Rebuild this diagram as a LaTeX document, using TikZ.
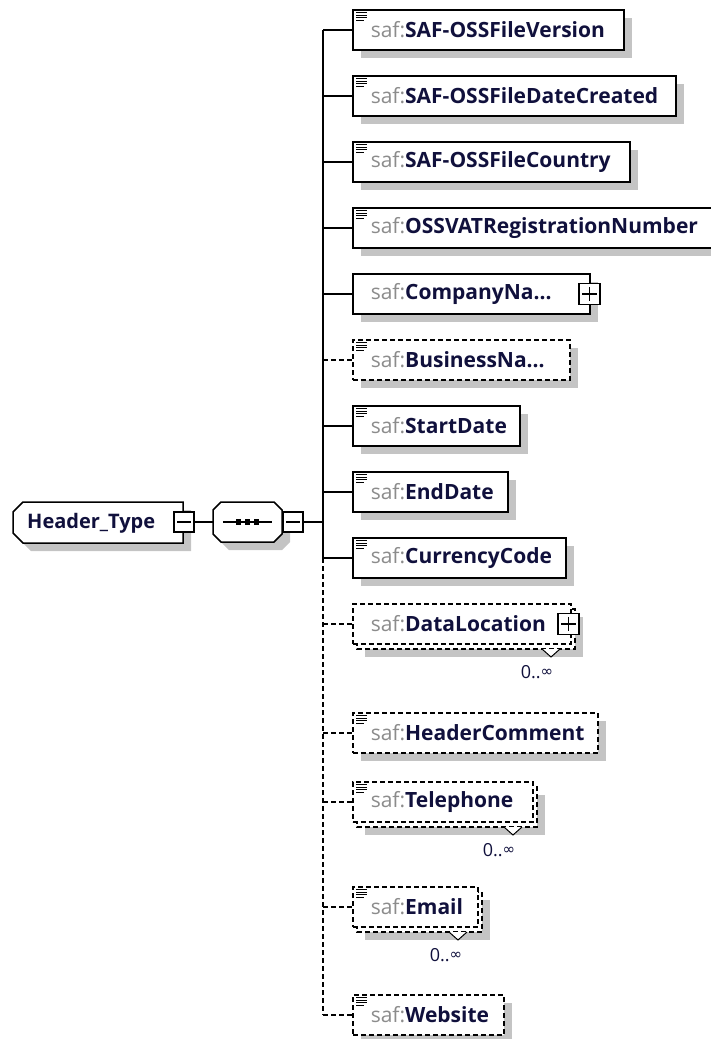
\documentclass[tikz,border=0pt]{standalone}
\usepackage{fontspec}
\setmainfont{Open Sans}
\newfontfamily\symfont{DejaVu Sans}
\usetikzlibrary{shadows}

\definecolor{navy}{HTML}{10103C}
\definecolor{nsgray}{HTML}{8C8C8C}
\definecolor{shadowgray}{HTML}{C4C4C4}

\newcommand{\safname}[1]{\mbox{{\color{nsgray}saf:}\textbf{#1}}}

\begin{document}
\begin{tikzpicture}[x=1pt, y=-1pt,
	elem/.style={draw, line width=1.5pt, fill=white, anchor=west, minimum height=40pt,
		inner xsep=18pt, inner ysep=0pt, align=left, text=navy,
		font=\fontsize{21}{24}\selectfont, text width=#1},
	opt/.style={dash pattern=on 5pt off 3pt},
	shad/.style={drop shadow={shadow xshift=8pt, shadow yshift=-8pt, opacity=1, fill=shadowgray}},
	tog/.style={draw, line width=1.3pt, fill=white, minimum size=20pt, inner sep=0pt},
	conn/.style={line width=1.5pt},
	mult/.style={font=\fontsize{18}{20}\selectfont, text=navy, inner sep=0pt}]
	
	\useasboundingbox (0,0) rectangle (710,1039);
	
	% complex type and its sequence
	\draw[conn, fill=white, shad] (23,502) -- (183,502) -- (183,543) -- (23,543) -- (13,533) -- (13,512) -- cycle;
	\node[font=\bfseries\fontsize{20}{24}\selectfont, text=navy, anchor=west, inner sep=0pt] (htype) at (27,523) {Header\_Type};
	\node[tog] (hmin) at (184,522) {};
	\draw[conn] ([xshift=4pt]hmin.west) -- ([xshift=-4pt]hmin.east);
	
	\draw[conn, fill=white, shad] (221,502) -- (274,502) -- (282,510) -- (282,534) -- (274,542) -- (221,542) -- (213,534) -- (213,510) -- cycle;
	\node[minimum width=69pt, minimum height=40pt, inner sep=0pt] (seq) at (247.5,522) {};
	\draw[line width=1.6pt] ([xshift=10pt]seq.west) -- ([xshift=-10pt]seq.east);
	\foreach \dx in {-9,0,9}
		\fill ([xshift=\dx pt]seq.center) ++(-2.7,-2.7) rectangle ++(5.4,5.4);
	\node[tog] (smin) at (293,522) {};
	\draw[conn] ([xshift=4pt]smin.west) -- ([xshift=-4pt]smin.east);
	
	\coordinate (trunk) at (323,522);
	\draw[conn] (hmin) -- (seq);
	\draw[conn] (smin) -- (trunk);
	
	% child elements
	\node[elem=235pt, shad] (ver) at (352,30) {\safname{SAF-OSSFileVersion}};
	\node[elem=287pt, shad] (dat) at (352,96) {\safname{SAF-OSSFileDateCreated}};
	\node[elem=241pt, shad] (cty) at (352,162) {\safname{SAF-OSSFileCountry}};
	\node[elem=327pt, shad] (vat) at (352,228) {\safname{OSSVATRegistrationNumber}};
	\node[elem=201pt, shad] (cna) at (352,294) {\safname{CompanyNa...}};
	\node[elem=181pt, opt, shad] (bna) at (352,360) {\safname{BusinessNa...}};
	\node[elem=131pt, shad] (sta) at (352,426) {\safname{StartDate}};
	\node[elem=119pt, shad] (edt) at (352,492) {\safname{EndDate}};
	\node[elem=177pt, shad] (cur) at (352,558) {\safname{CurrencyCode}};
	
	\draw[conn, opt, fill=white, shad] (357,609) rectangle (575,649);
	\node[elem=182pt, opt] (dloc) at (352,624) {\safname{DataLocation}};
	\node[elem=209pt, opt, shad] (hcom) at (352,733) {\safname{HeaderComment}};
	\draw[conn, opt, fill=white, shad] (357,787) rectangle (537,827);
	\node[elem=144pt, opt] (tel) at (352,802) {\safname{Telephone}};
	\draw[conn, opt, fill=white, shad] (357,892) rectangle (482,932);
	\node[elem=89pt, opt] (eml) at (352,907) {\safname{Email}};
	\node[elem=115pt, opt, shad] (web) at (352,1015) {\safname{Website}};
	
	% trunk and branches
	\draw[conn] (ver.west -| trunk) -- (cur.west -| trunk);
	\draw[conn, opt] (cur.west -| trunk) -- (web.west -| trunk);
	\foreach \n in {ver,dat,cty,vat,cna,sta,edt,cur}
		\draw[conn] (\n.west -| trunk) -- (\n.west);
	\foreach \n in {bna,dloc,hcom,tel,eml,web}
		\draw[conn, opt] (\n.west -| trunk) -- (\n.west);
	
	% simple content icons
	\foreach \n in {ver,dat,cty,vat,bna,sta,edt,cur,hcom,tel,eml,web}
		\foreach \dy/\len in {3/11,5.7/11,8.4/11,11/8}
			\draw[line width=0.9pt] ([shift={(4,\dy)}]\n.north west) -- ++(\len,0);
	
	% expand boxes
	\node[tog, minimum size=21pt] (cnap) at ([xshift=-1pt]cna.east) {};
	\draw[line width=1.3pt] ([xshift=4pt]cnap.west) -- ([xshift=-4pt]cnap.east);
	\draw[line width=1.3pt] ([yshift=-4pt]cnap.north) -- ([yshift=4pt]cnap.south);
	\node[tog, minimum size=21pt] (dlocp) at ([xshift=-3pt]dloc.east) {};
	\draw[line width=1.3pt] ([xshift=4pt]dlocp.west) -- ([xshift=-4pt]dlocp.east);
	\draw[line width=1.3pt] ([yshift=-4pt]dlocp.north) -- ([yshift=4pt]dlocp.south);
	
	% multiplicity
	\draw[line width=1pt, fill=white] (542,649) -- (551,657) -- (560,649);
	\node[mult] (dlocm) at (537,672) {0..\raisebox{1.5pt}{\symfont\fontsize{15}{16}\selectfont ∞}};
	\draw[line width=1pt, fill=white] (504,827) -- (513,835) -- (522,827);
	\node[mult] (telm) at (499,850) {0..\raisebox{1.5pt}{\symfont\fontsize{15}{16}\selectfont ∞}};
	\draw[line width=1pt, fill=white] (449,932) -- (458,940) -- (467,932);
	\node[mult] (emlm) at (446,955) {0..\raisebox{1.5pt}{\symfont\fontsize{15}{16}\selectfont ∞}};
\end{tikzpicture}
\end{document}
